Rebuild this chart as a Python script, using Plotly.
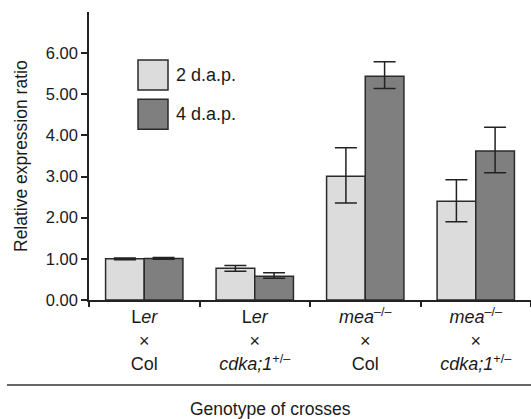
import plotly.graph_objects as go

categories = ["Ler×Col", "Ler×cdka", "mea×Col", "mea×cdka"]
tick_labels = [
    "L<i>er</i><br>×<br>Col",
    "L<i>er</i><br>×<br><i>cdka;1</i><sup>+/–</sup>",
    "<i>mea</i><sup>–/–</sup><br>×<br>Col",
    "<i>mea</i><sup>–/–</sup><br>×<br><i>cdka;1</i><sup>+/–</sup>",
]
series_names = ["2 d.a.p.", "4 d.a.p."]
vals_2dap = [1.00, 0.77, 3.01, 2.40]
err_up_2dap = [0.02, 0.07, 0.69, 0.52]
err_dn_2dap = [0.02, 0.07, 0.65, 0.50]
vals_4dap = [1.01, 0.58, 5.44, 3.62]
err_up_4dap = [0.02, 0.08, 0.35, 0.58]
err_dn_4dap = [0.02, 0.05, 0.30, 0.53]
y_ticks = [0, 1, 2, 3, 4, 5, 6]

colors = ["#dcdcdc", "#7f7f7f"]
edge = "#2b2b2b"
FONT = "Liberation Sans, Arial, sans-serif"

fig = go.Figure()
for name, v, eu, ed, c in [
    (series_names[0], vals_2dap, err_up_2dap, err_dn_2dap, colors[0]),
    (series_names[1], vals_4dap, err_up_4dap, err_dn_4dap, colors[1]),
]:
    fig.add_trace(go.Bar(
        x=categories, y=v, name=name,
        marker=dict(color=c, line=dict(color=edge, width=1.5)),
        error_y=dict(type="data", array=eu, arrayminus=ed, symmetric=False,
                     color="#222222", thickness=1.5, width=11),
        showlegend=False, hoverinfo="skip",
    ))

fig.update_layout(
    width=531, height=419,
    margin=dict(l=89, r=0, t=12, b=119),
    paper_bgcolor="white", plot_bgcolor="white",
    barmode="group", bargap=0.3, bargroupgap=0,
    font=dict(family=FONT, size=18, color="#1a1a1a"),
    xaxis=dict(
        type="category", range=[-0.5, 3.5],
        tickmode="array", tickvals=categories, ticktext=tick_labels,
        tickson="boundaries", ticks="outside", ticklen=5, tickwidth=1.5,
        tickcolor="#222222",
        showline=True, linecolor="#222222", linewidth=1.5,
        showgrid=False, zeroline=False,
        tickfont=dict(size=18),
    ),
    yaxis=dict(
        range=[0, 7], tickvals=y_ticks, tickformat=".2f",
        ticks="outside", ticklen=6, tickwidth=1.5, tickcolor="#222222",
        showline=True, linecolor="#222222", linewidth=1.5,
        showgrid=False, zeroline=False,
        tickfont=dict(size=16.5),
    ),
)

# y-axis title
fig.add_annotation(text="Relative expression ratio", xref="paper", yref="paper",
                   x=(21 - 89) / 442, y=0.5, textangle=-90, showarrow=False,
                   xanchor="center", yanchor="middle", font=dict(size=17.5))

# bottom title and rule
fig.add_shape(type="line", xref="paper", yref="paper",
              x0=(7 - 89) / 442, x1=1.0, y0=(300 - 385) / 288, y1=(300 - 385) / 288,
              line=dict(color="#333333", width=1.5))
fig.add_annotation(text="Genotype of crosses", xref="paper", yref="paper",
                   x=(270 - 89) / 442, y=(300 - 409) / 288, showarrow=False,
                   xanchor="center", yanchor="middle", font=dict(size=17.5))

# legend
leg = [(60, 90, colors[0], series_names[0]), (99.3, 129.3, colors[1], series_names[1])]
for top, bot, c, name in leg:
    fig.add_shape(type="rect", xref="paper", yref="paper",
                  x0=(138 - 89) / 442, x1=(168 - 89) / 442,
                  y0=(300 - bot) / 288, y1=(300 - top) / 288,
                  fillcolor=c, line=dict(color=edge, width=1.5))
    fig.add_annotation(text=name, xref="paper", yref="paper",
                       x=(174 - 89) / 442, y=(300 - (top + bot) / 2) / 288,
                       xanchor="left", yanchor="middle", showarrow=False,
                       font=dict(size=18))

fig.write_html("out.html", config={"displayModeBar": False},
               post_script="document.body.style.margin='0';document.body.style.overflow='hidden';")
